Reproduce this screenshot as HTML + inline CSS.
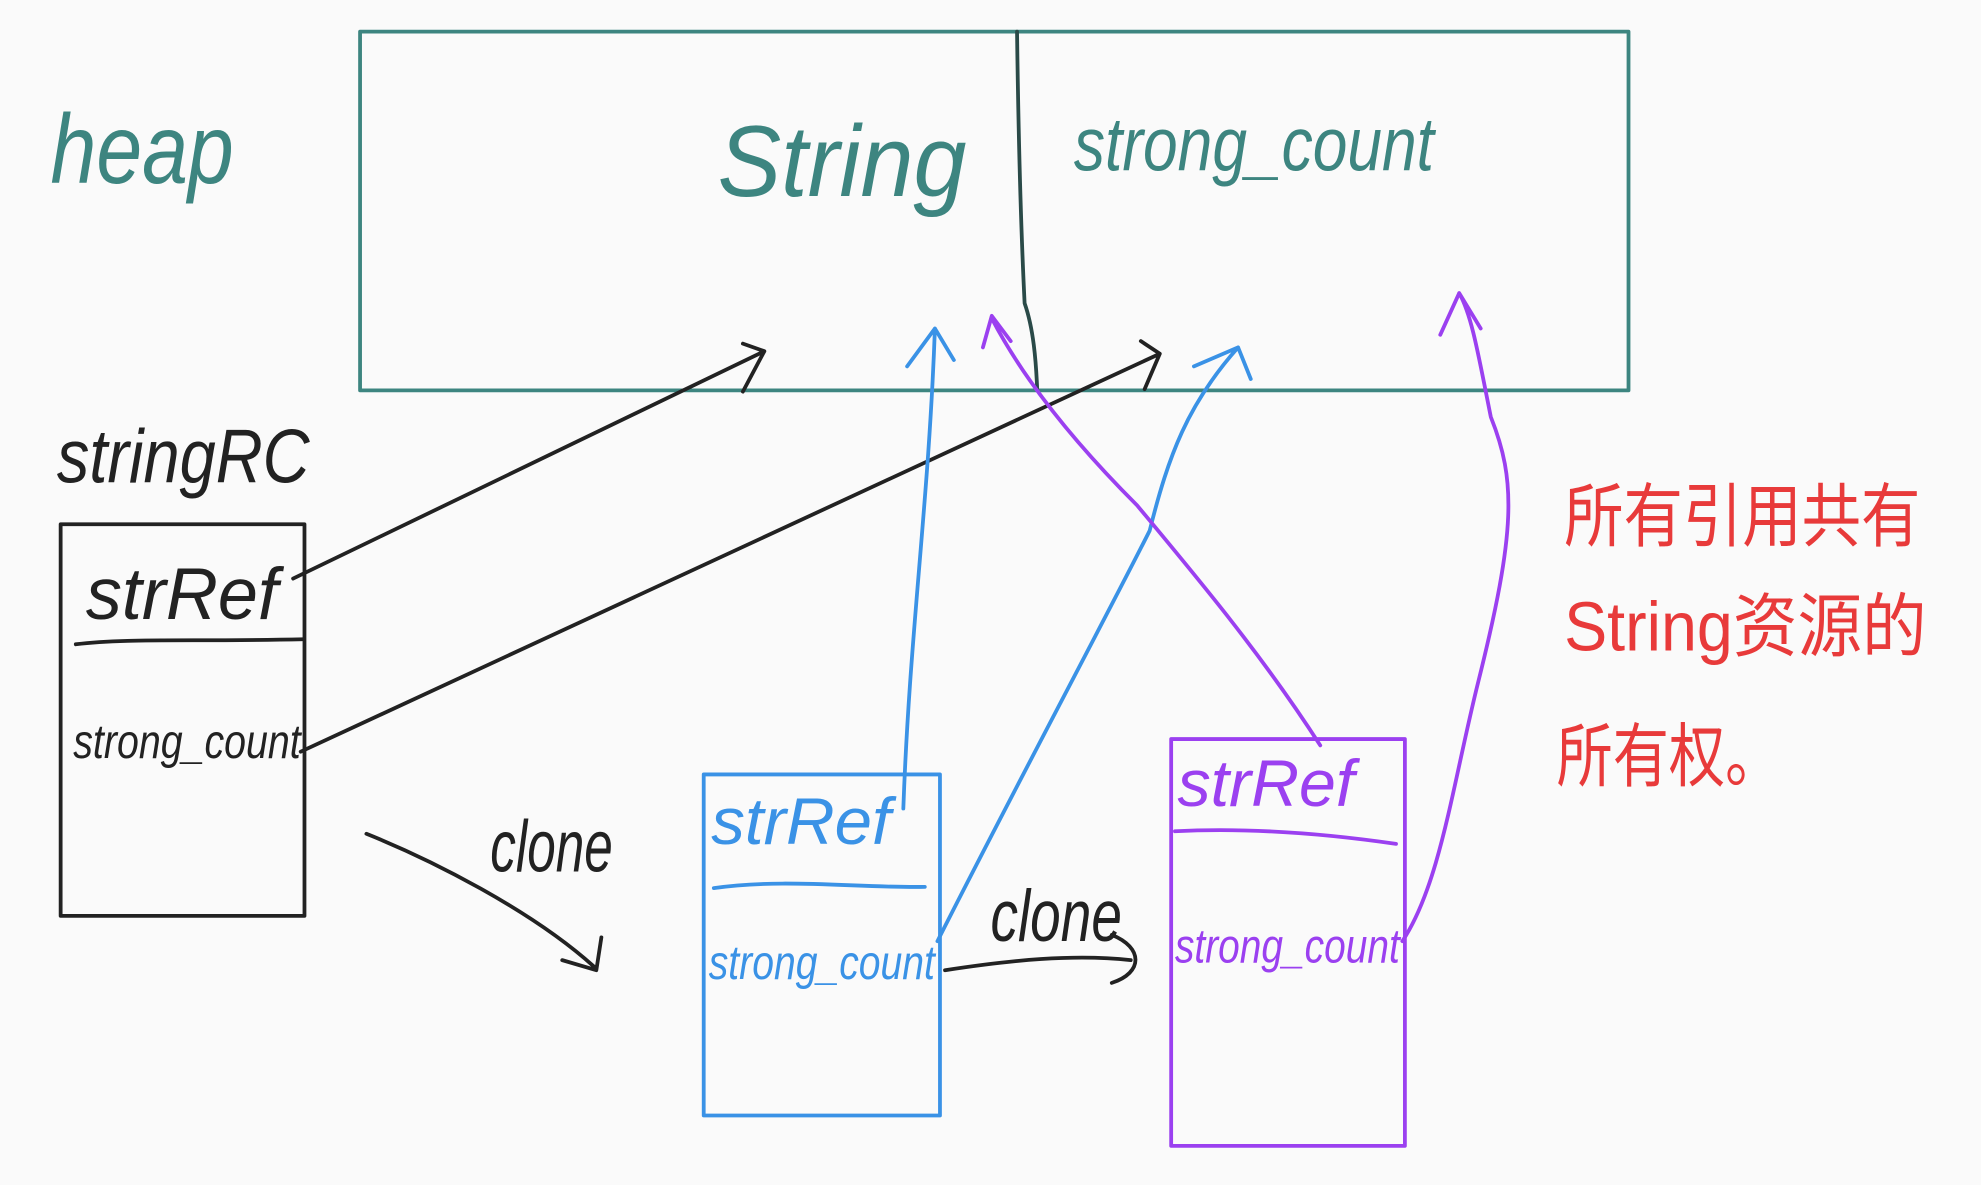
<!DOCTYPE html>
<html><head><meta charset="utf-8"><style>
html,body{margin:0;padding:0;background:#fafafa;}
svg{display:block;}
text{font-family:"Liberation Sans","Noto Sans CJK SC",sans-serif;}
</style></head><body>
<svg width="1981" height="1185" viewBox="0 0 1568 938" preserveAspectRatio="none" xmlns="http://www.w3.org/2000/svg">
<rect width="1568" height="938" fill="#fafafa"/>
<g fill="none" stroke-linecap="round" stroke-linejoin="round">
<rect x="285" y="25" width="1004" height="284" stroke="#3d8580" stroke-width="3"/>
<path d="M805 25 C806 100 808 180 811 240 C818 260 820 285 821 309" stroke="#2a4a48" stroke-width="3"/>
<rect x="48" y="415" width="193" height="310" stroke="#222" stroke-width="3"/>
<path d="M60 510 C100 505 150 508 240 506" stroke="#222" stroke-width="3"/>
<path d="M232 458 L605 278 M588 272 L605 278 L588 310" stroke="#222" stroke-width="3"/>
<path d="M238 595 L918 280 M903 270 L918 280 L906 308" stroke="#222" stroke-width="3"/>
<path d="M290 660 C340 680 420 720 470 765 M445 760 L472 768 L476 742" stroke="#222" stroke-width="3"/>
<path d="M748 768 C800 760 850 755 895 760 M880 740 C905 750 905 770 880 778" stroke="#222" stroke-width="3"/>
<rect x="557" y="613" width="187" height="270" stroke="#3a92e6" stroke-width="3"/>
<path d="M565 703 C620 695 680 703 732 702" stroke="#3a92e6" stroke-width="3"/>
<path d="M715 640 C720 500 735 400 740 260 M718 290 L740 260 L755 285" stroke="#3a92e6" stroke-width="3"/>
<path d="M742 745 C800 630 880 480 910 420 C925 360 940 320 980 275 M945 290 L980 275 L990 300" stroke="#3a92e6" stroke-width="3"/>
<rect x="927" y="585" width="185" height="322" stroke="#9b40f0" stroke-width="3"/>
<path d="M930 658 C990 655 1050 660 1105 668" stroke="#9b40f0" stroke-width="3"/>
<path d="M1045 590 C1000 520 950 460 900 400 C850 350 810 300 785 252 M778 275 L785 250 L800 270" stroke="#9b40f0" stroke-width="3"/>
<path d="M1110 745 C1140 700 1150 620 1170 540 C1200 420 1200 380 1180 330 C1170 280 1165 250 1155 232 M1140 265 L1155 232 L1172 260" stroke="#9b40f0" stroke-width="3"/>
</g>
<g font-style="italic">
<text x="40" y="145" font-size="78" fill="#3d8580" textLength="145" lengthAdjust="spacingAndGlyphs">heap</text>
<text x="568" y="155" font-size="80" fill="#3d8580" textLength="197" lengthAdjust="spacingAndGlyphs">String</text>
<text x="850" y="135" font-size="60" fill="#3d8580" textLength="285" lengthAdjust="spacingAndGlyphs">strong_count</text>
<text x="45" y="382" font-size="60" fill="#222" textLength="200" lengthAdjust="spacingAndGlyphs">stringRC</text>
<text x="68" y="490" font-size="58" fill="#222" textLength="152" lengthAdjust="spacingAndGlyphs">strRef</text>
<text x="58" y="600" font-size="38" fill="#222" textLength="180" lengthAdjust="spacingAndGlyphs">strong_count</text>
<text x="388" y="690" font-size="58" fill="#222" textLength="97" lengthAdjust="spacingAndGlyphs">clone</text>
<text x="784" y="745" font-size="58" fill="#222" textLength="104" lengthAdjust="spacingAndGlyphs">clone</text>
<text x="563" y="668" font-size="52" fill="#3a92e6" textLength="142" lengthAdjust="spacingAndGlyphs">strRef</text>
<text x="561" y="775" font-size="38" fill="#3a92e6" textLength="179" lengthAdjust="spacingAndGlyphs">strong_count</text>
<text x="932" y="638" font-size="52" fill="#9b40f0" textLength="140" lengthAdjust="spacingAndGlyphs">strRef</text>
<text x="930" y="762" font-size="38" fill="#9b40f0" textLength="178" lengthAdjust="spacingAndGlyphs">strong_count</text>
</g>
<text x="1238" y="428" font-size="55" fill="#e83a3a" textLength="282" lengthAdjust="spacingAndGlyphs">所有引用共有</text>
<text x="1238" y="515" font-size="55" fill="#e83a3a" textLength="287" lengthAdjust="spacingAndGlyphs">String资源的</text>
<text x="1232" y="618" font-size="55" fill="#e83a3a" textLength="178" lengthAdjust="spacingAndGlyphs">所有权。</text>
</svg>
</body></html>
